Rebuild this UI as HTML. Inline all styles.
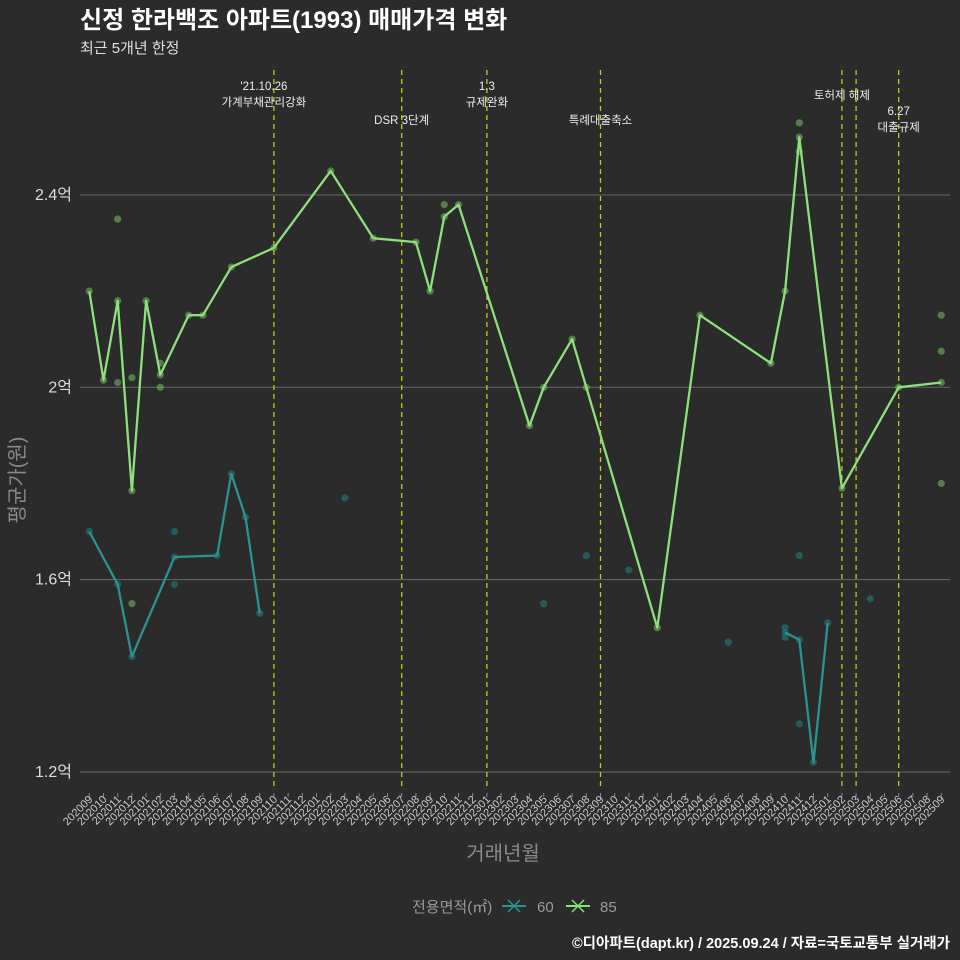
<!DOCTYPE html>
<html><head><meta charset="utf-8"><style>
body{margin:0;background:#2b2b2b;}
svg{display:block;font-family:"Liberation Sans","Noto Sans CJK KR",sans-serif;}
</style></head><body>
<svg id="chart" width="960" height="960" viewBox="0 0 960 960">
<rect width="960" height="960" fill="#2b2b2b"/>
<text x="80" y="28" fill="#ffffff" font-size="24" font-weight="bold">신정 한라백조 아파트(1993) 매매가격 변화</text>
<text x="80" y="53" fill="#e0e0e0" font-size="15">최근 5개년 한정</text>
<g id="grid"></g>
<g id="vlines"></g>
<g id="dots"></g>
<g id="lines"></g>
<g id="xaxis"></g>
<g id="yaxis"></g>
<text x="503" y="860" fill="#8a8a8a" font-size="20" text-anchor="middle">거래년월</text>
<text transform="translate(24,480) rotate(-90)" fill="#8a8a8a" font-size="20" text-anchor="middle">평균가(원)</text>
<g>
<text x="412" y="912" fill="#9a9a9a" font-size="15">전용면적(㎡)</text>
<g>
<line x1="502" y1="906" x2="526" y2="906" stroke="#2a9393" stroke-width="2"/>
<path d="M508 900 L520 912 M520 900 L508 912" stroke="#2a9393" stroke-width="1.5"/>
<text x="537" y="912" fill="#9a9a9a" font-size="15">60</text></g>
<g>
<line x1="566" y1="906" x2="590" y2="906" stroke="#8ee07c" stroke-width="2"/>
<path d="M572 900 L584 912 M584 900 L572 912" stroke="#8ee07c" stroke-width="1.5"/>
<text x="600" y="912" fill="#9a9a9a" font-size="15">85</text></g>
</g>
<text x="950" y="948" fill="#ffffff" font-size="14.5" font-weight="bold" text-anchor="end">©디아파트(dapt.kr) / 2025.09.24 / 자료=국토교통부 실거래가</text>
</svg>
<script>
const months = [];
for (let y = 2020, m = 9; months.length < 61; ) { months.push(String(y) + String(m).padStart(2,'0')); m++; if (m > 12) { m = 1; y++; } }
const yTicks = [1.2, 1.6, 2.0, 2.4];
const yTickLabels = ['1.2억', '1.6억', '2억', '2.4억'];
// line vertices: [month index, value in 억]
const line85 = [[0,2.20],[1,2.015],[2,2.18],[3,1.785],[4,2.18],[5,2.026],[7,2.15],[8,2.15],[10,2.25],[13,2.29],[17,2.45],[20,2.31],[23,2.302],[24,2.20],[25,2.355],[26,2.38],[31,1.92],[32,2.0],[34,2.10],[35,2.0],[40,1.50],[43,2.15],[48,2.05],[49,2.20],[50,2.52],[53,1.79],[57,2.0],[60,2.01]];
const line60a = [[0,1.70],[2,1.59],[3,1.44],[6,1.647],[9,1.65],[10,1.82],[11,1.73],[12,1.53]];
const line60b = [[49,1.49],[50,1.475],[51,1.22],[52,1.51]];
const dots85 = [[2,2.35],[2,2.01],[3,2.02],[5,2.0],[5,2.05],[3,1.55],[25,2.38],[50,2.55],[50,2.49],[60,2.15],[60,2.075],[60,1.80]];
const dots60 = [[6,1.70],[6,1.59],[18,1.77],[32,1.55],[35,1.65],[38,1.62],[45,1.47],[49,1.50],[49,1.48],[50,1.65],[50,1.30],[55,1.56]];
const eventIdx = [13, 22, 28, 36, 53, 54, 57];
const eventLabels = [["'21.10.26","가계부채관리강화"],["DSR 3단계"],["1.3","규제완화"],["특례대출축소"],["토허제 해제"],[],["6.27","대출규제"]];
const eventLabelY = [90, 124, 90, 124, 99, 0, 115];

const NS = 'http://www.w3.org/2000/svg';
const X0 = 89.3, DX = 14.2;
const xs = i => X0 + i * DX;
const ys = v => 387.3 - (v - 2) * 480.8;
function mk(tag, attrs, parent) { const e = document.createElementNS(NS, tag); for (const k in attrs) e.setAttribute(k, attrs[k]); parent.appendChild(e); return e; }
const grid = document.getElementById('grid'), yaxis = document.getElementById('yaxis');
yTicks.forEach((t, i) => {
  const l = mk('line', {x1: 80, x2: 950, y1: ys(t), y2: ys(t), stroke: '#6a6a6a', 'stroke-width': 1}, grid);
  
  
  const tx = mk('text', {x: 72, y: ys(t) + 5, fill: '#dddddd', 'font-size': 16, 'text-anchor': 'end'}, yaxis);
  tx.textContent = yTickLabels[i];
  
  
});
const xaxis = document.getElementById('xaxis');
months.forEach((m, i) => {
  const t = mk('line', {x1: xs(i), x2: xs(i), y1: 793, y2: 797, stroke: '#888', 'stroke-width': 1}, xaxis);
  
  
  const tx = mk('text', {transform: `translate(${xs(i)+4},800) rotate(-45)`, fill: '#cccccc', 'font-size': 11, 'text-anchor': 'end'}, xaxis);
  tx.textContent = m;
  
  
});
const vl = document.getElementById('vlines');
eventIdx.forEach((idx, k) => {
  const l = mk('line', {x1: xs(idx), x2: xs(idx), y1: 70, y2: 790, stroke: '#c8c81e', 'stroke-width': 1.3, 'stroke-dasharray': '5,4'}, vl);
  
  
  eventLabels[k].forEach((s, j) => {
    const tx = mk('text', {x: xs(idx) - (k === 0 ? 10 : 0), y: eventLabelY[k] + j * 16, fill: '#eeeeee', 'font-size': 11.5, 'text-anchor': 'middle'}, vl);
    tx.textContent = s;
    
    
  });
});
const dg = document.getElementById('dots');
function drawDots(arr, col, name) { arr.forEach(p => { const c = mk('circle', {cx: xs(p[0]), cy: ys(p[1]), r: 3.6, fill: col, opacity: 0.6}, dg);   }); }
drawDots(dots85, '#6fb45f', 'dot-85');
drawDots(dots60, '#257a7a', 'dot-60');
drawDots(line85, '#6fb45f', 'dot-85');
drawDots(line60a, '#257a7a', 'dot-60');
drawDots(line60b, '#257a7a', 'dot-60');
const lg = document.getElementById('lines');
function drawLine(arr, col, name) { const p = mk('polyline', {points: arr.map(q => xs(q[0]) + ',' + ys(q[1])).join(' '), fill: 'none', stroke: col, 'stroke-width': 2.3, 'stroke-linejoin': 'round'}, lg);   }
drawLine(line60a, '#2a9393', 'line-60');
drawLine(line60b, '#2a9393', 'line-60');
drawLine(line85, '#8ee07c', 'line-85');
</script>
</body></html>
